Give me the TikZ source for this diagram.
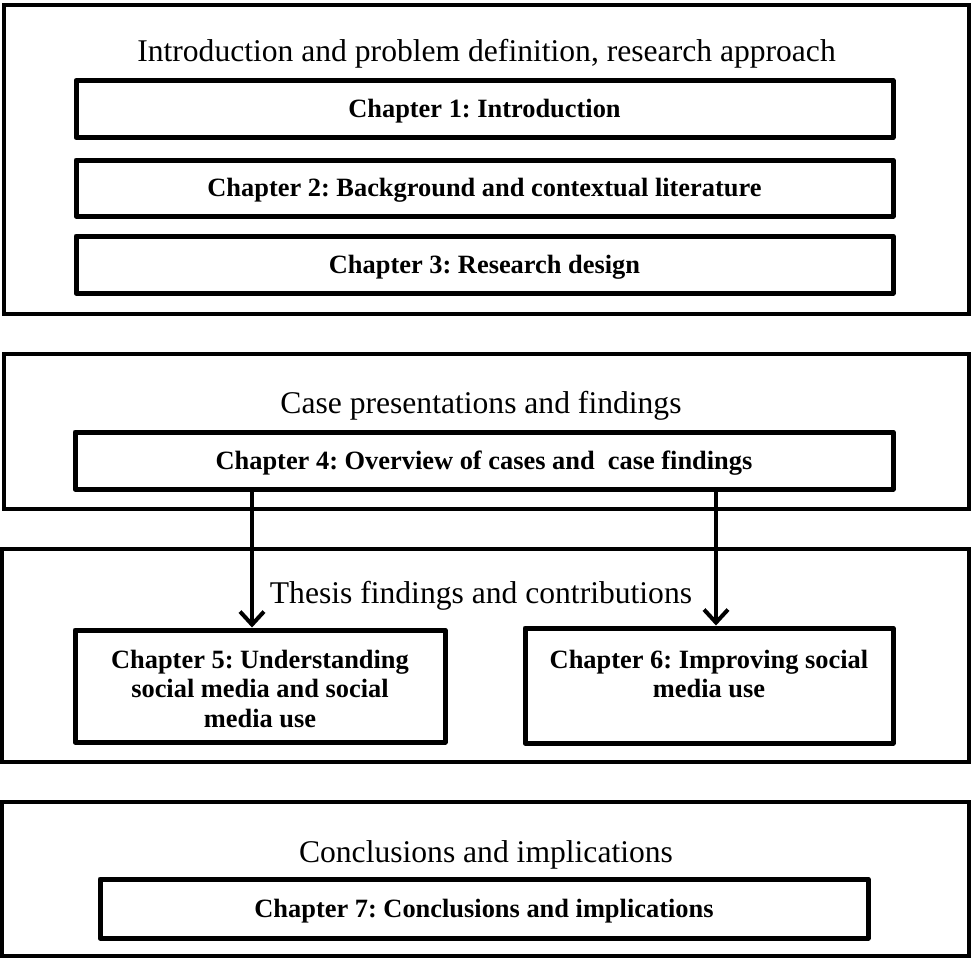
\documentclass[tikz,border=0pt]{standalone}
\usepackage{fontspec}
\setmainfont{Liberation Serif}
\usetikzlibrary{arrows.meta}
\frenchspacing
\newcommand\mytitlefont{\fontsize{31.6pt}{38pt}\selectfont}
\newcommand\mychapfont{\fontsize{26.4pt}{29.5pt}\selectfont\bfseries}
\begin{document}
\begin{tikzpicture}[x=1pt,y=-1pt,
  outerbox/.style={draw, line width=4.5pt, inner sep=0pt},
  chapbox/.style={draw, line width=5pt, line join=round, inner sep=0pt, font=\mychapfont, text height=20pt, text depth=3pt},
  emptybox/.style={draw, line width=5pt, line join=round, inner sep=0pt},
  titletext/.style={font=\mytitlefont, inner sep=0pt, anchor=base},
  chaptext/.style={font=\mychapfont, align=center, inner sep=0pt, anchor=north},
  flow/.style={draw, line width=4pt, -{Straight Barb[length=13pt,width=24pt]}}
]
\useasboundingbox (0,0) rectangle (972,959);

% Section 1
\node[outerbox, minimum width=965pt, minimum height=309pt] (A) at (486.5,159.5) {};
\node[titletext] (tA) at (486.5,61) {Introduction and problem definition, research approach};
\node[chapbox, minimum width=817pt, minimum height=57pt] (ch1) at (484.5,109) {Chapter 1: Introduction};
\node[chapbox, minimum width=817pt, minimum height=56pt] (ch2) at (484.5,188) {Chapter 2: Background and contextual literature};
\node[chapbox, minimum width=817pt, minimum height=57pt] (ch3) at (484.5,264.5) {Chapter 3: Research design};

% Section 2
\node[outerbox, minimum width=965pt, minimum height=155pt] (B) at (486.5,431.5) {};
\node[titletext] (tB) at (481,413) {Case presentations and findings};
\node[chapbox, minimum width=818pt, minimum height=57pt] (ch4) at (484,460.5) {Chapter 4: Overview of cases and~ case findings};

% Section 3
\node[outerbox, minimum width=967pt, minimum height=213pt] (C) at (485.5,655.5) {};
\node[titletext] (tC) at (481,603) {Thesis findings and contributions};
\node[emptybox, minimum width=370pt, minimum height=112pt] (ch5) at (260,686) {};
\node[chaptext] (ch5t) at ([yshift=-22pt]ch5.north) {Chapter 5: Understanding\\social media and social\\media use};
\node[emptybox, minimum width=368pt, minimum height=115pt] (ch6) at (709,685.5) {};
\node[chaptext] (ch6t) at ([yshift=-24pt]ch6.north) {Chapter 6: Improving social\\media use};

% Section 4
\node[outerbox, minimum width=967pt, minimum height=154pt] (D) at (485.5,879) {};
\node[titletext] (tD) at (486,862) {Conclusions and implications};
\node[chapbox, minimum width=768pt, minimum height=59pt] (ch7) at (484,908.5) {Chapter 7: Conclusions and implications};

% Arrows
\coordinate (a1) at (252,560);
\coordinate (a2) at (716,560);
\draw[flow] (a1 |- ch4.south) -- (a1 |- ch5.north);
\draw[flow] (a2 |- ch4.south) -- (a2 |- ch6.north);
\end{tikzpicture}
\end{document}
